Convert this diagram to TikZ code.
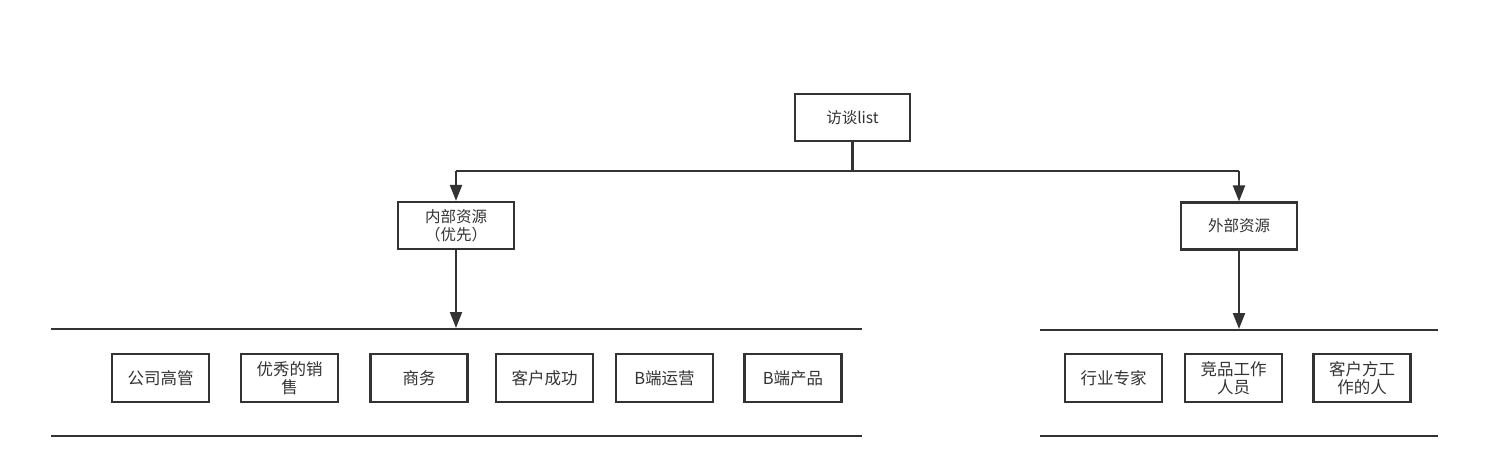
\documentclass[tikz,border=0pt]{standalone}
\usepackage{fontspec}
\setmainfont{Noto Sans CJK SC}
\usetikzlibrary{arrows.meta}
\definecolor{ink}{HTML}{333333}
\begin{document}
\begin{tikzpicture}[x=1pt,y=-1pt,
  box/.style={draw=ink,line width=2.2pt,fill=white,minimum width=116pt,minimum height=47pt,inner sep=1pt,font=\fontsize{15.5}{18}\selectfont,text=ink,align=center},
  leaf/.style={draw=ink,line width=2.2pt,fill=white,minimum width=97pt,minimum height=48pt,inner sep=1pt,font=\fontsize{16.5}{18.5}\selectfont,text=ink,align=center},
  band/.style={draw=ink,line width=2.5pt},
  conn/.style={draw=ink,line width=2.2pt},
  arr/.style={conn,-{Triangle[length=16pt,width=12pt]}}]
\useasboundingbox (0,0) rectangle (1489,474);
\node[box,minimum width=115pt] (root) at (852.5,117.5) {访谈list};
\node[box] (int) at (456,225.5) {内部资源\\（优先）};
\node[box] (ext) at (1239,226) {外部资源};
\coordinate (split) at (852.5,171);
\coordinate (splitL) at (456,171);
\coordinate (splitR) at (1239,171);
\draw[conn] (root.south) -- (split);
\draw[conn] (splitL) -- (splitR);
\draw[arr] (splitL) -- (int.north);
\draw[arr] (splitR) -- (ext.north);
% bands
\coordinate (lt1) at (51,329); \coordinate (lt2) at (862,329);
\coordinate (lb1) at (51,436); \coordinate (lb2) at (862,436);
\coordinate (rt1) at (1040,330); \coordinate (rt2) at (1438,330);
\coordinate (rb1) at (1040,436); \coordinate (rb2) at (1438,436);
\draw[band] (lt1) -- (lt2);
\draw[band] (lb1) -- (lb2);
\draw[band] (rt1) -- (rt2);
\draw[band] (rb1) -- (rb2);
\coordinate (intEnd) at (456,328);
\coordinate (extEnd) at (1239,329);
\draw[arr] (int.south) -- (intEnd);
\draw[arr] (ext.south) -- (extEnd);
% leaves
\node[leaf] (a1) at (160.5,378) {公司高管};
\node[leaf] (a2) at (289.5,378) {优秀的销\\售};
\node[leaf] (a3) at (419,378) {商务};
\node[leaf] (a4) at (544.5,378) {客户成功};
\node[leaf] (a5) at (664.5,378) {B端运营};
\node[leaf] (a6) at (793,378) {B端产品};
\node[leaf] (b1) at (1113.5,378) {行业专家};
\node[leaf] (b2) at (1233.5,378) {竞品工作\\人员};
\node[leaf] (b3) at (1362,378) {客户方工\\作的人};
\end{tikzpicture}
\end{document}
